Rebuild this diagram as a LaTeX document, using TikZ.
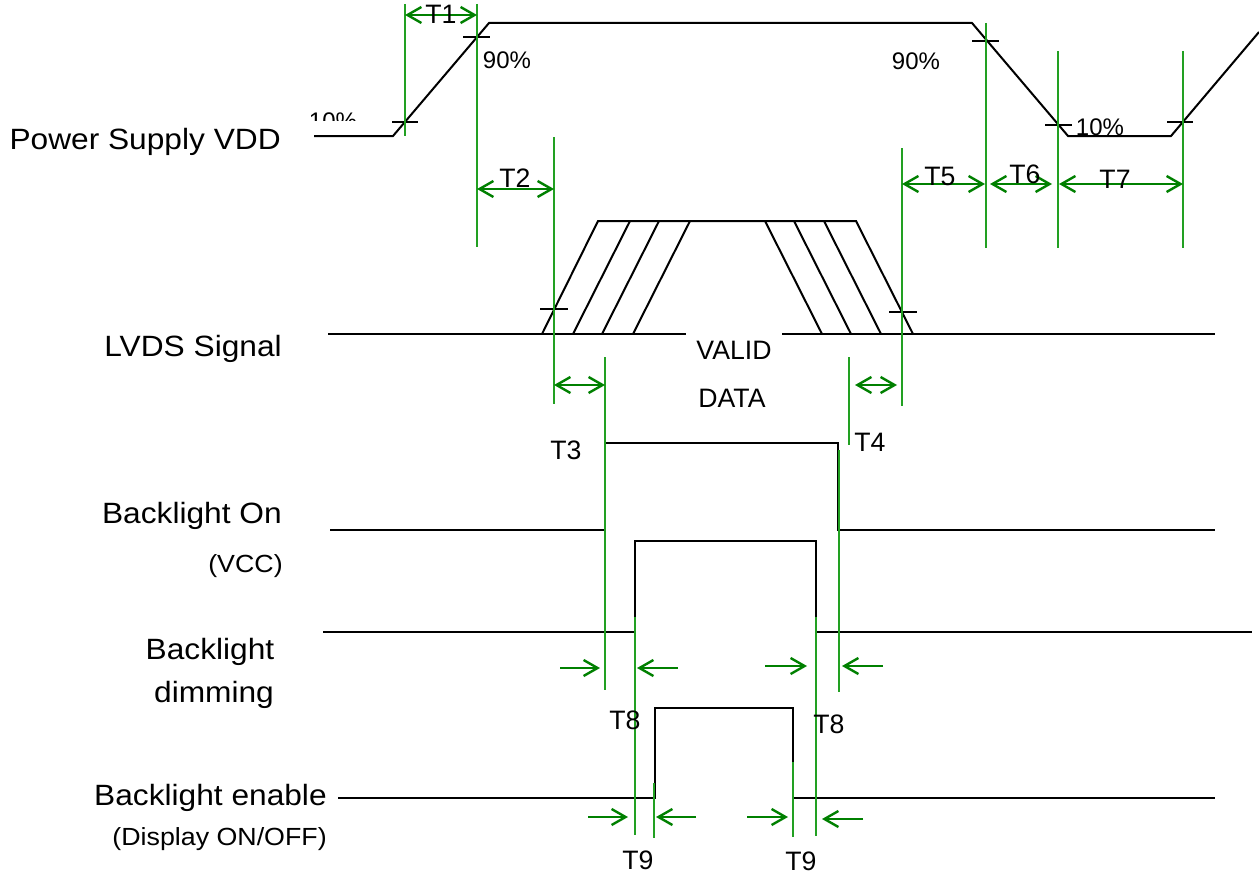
\documentclass[tikz,border=0pt]{standalone}
\usepackage{fontspec}
\setmainfont{Liberation Sans}
\usetikzlibrary{arrows.meta, positioning}
\definecolor{cgreen}{HTML}{008000}
\definecolor{lgreen}{HTML}{22A022}

\begin{document}
\begin{tikzpicture}[x=0.75pt, y=-0.75pt,
  sigline/.style={line width=1.5pt, line join=miter},
  tickmark/.style={line width=1.2pt},
  timeline/.style={draw=lgreen, line width=1pt},
  dimarrow/.style={draw=cgreen, line width=1.8pt, {Straight Barb[length=10.5pt,width=12pt]}-{Straight Barb[length=10.5pt,width=12pt]}},
  inarrow/.style={draw=cgreen, line width=1.8pt, -{Straight Barb[length=10.5pt,width=12pt]}},
  namelabel/.style={font=\fontsize{22}{26}\selectfont, xscale=1.08, anchor=base east, inner sep=0pt},
  sublabel/.style={font=\fontsize{18.6}{22}\selectfont, xscale=1.08, anchor=base east, inner sep=0pt},
  tlabel/.style={font=\fontsize{20}{24}\selectfont, inner sep=0pt},
  pctlabel/.style={font=\fontsize{18}{21}\selectfont, inner sep=0pt}]
  \useasboundingbox (0,0) rectangle (1259,874);

  % signal names
  \node[namelabel] (vdd) at (281,149) {Power Supply VDD};
  \node[namelabel] (lvds) at (282,356) {LVDS Signal};
  \node[namelabel] (blon) at (282,523) {Backlight On};
  \node[sublabel] (vcc) at (283,572) {(VCC)};
  \node[namelabel, anchor=base] (bldim) at (210,659) {Backlight};
  \node[namelabel, anchor=base] (bldimb) at (214,702) {dimming};
  \node[namelabel] (blen) at (327,805) {Backlight enable};
  \node[sublabel] (disp) at (327,845) {(Display ON/OFF)};

  % waveforms
  \draw[sigline] (314,136) -- (393,136) -- (489,23) -- (972,23) -- (1068,136) -- (1171,136) -- (1259,32);
  \draw[sigline] (328,334) -- (686,334);
  \draw[sigline] (782,334) -- (1215,334);
  \draw[sigline] (542,334) -- (598,221) -- (856,221) -- (913,334);
  \foreach \b in {573,602,633}
    \draw[sigline] (\b,334) -- ++(57,-113);
  \foreach \t in {765,794,824}
    \draw[sigline] (\t,221) -- ++(57,113);
  \draw[sigline] (330,530) -- (605,530) -- (605,443) -- (838,443) -- (838,530) -- (1215,530);
  \draw[sigline] (323,632) -- (635,632) -- (635,541) -- (816,541) -- (816,632) -- (1252,632);
  \draw[sigline] (338,798) -- (655,798) -- (655,708) -- (793,708) -- (793,798) -- (1215,798);

  % level marks
  \foreach \xa/\xb/\y in {392/418/122, 463/490/37, 972/999/41, 1045/1072/125, 1167/1193/122, 540/568/309, 889/917/312}
    \draw[tickmark] (\xa,\y) -- (\xb,\y);

  % timing lines
  \foreach \x/\ya/\yb in {405/4/136, 477/4/247, 554/137/404, 986/23/248, 1058/51/248, 1183/51/248,
      902/148/406, 605/357/690, 849/357/445, 839/450/692, 635/617/835, 816/617/836, 654/783/838, 793/762/837}
    \draw[timeline] (\x,\ya) -- (\x,\yb);

  % arrow ends
  \foreach \n/\x/\y in {t1a/405/15, t1b/477/15, t2a/477/189, t2b/554/189,
      t5a/902/184, t5b/985/184, t6a/990/184, t6b/1052/184, t7a/1059/184, t7b/1183/184,
      t3a/554/385, t3b/605/385, t4a/855/385, t4b/897/385,
      p1a/560/668, p1b/600/668, p2a/678/668, p2b/637/668,
      p3a/765/666, p3b/807/666, p4a/883/666, p4b/842/666,
      q1a/588/817, q1b/628/817, q2a/696/817, q2b/656/817,
      q3a/747/817, q3b/788/817, q4a/863/819, q4b/822/819}
    \coordinate (\n) at (\x,\y);

  \draw[dimarrow] (t1a) -- (t1b);
  \draw[dimarrow] (t2a) -- (t2b);
  \draw[dimarrow] (t5a) -- (t5b);
  \draw[dimarrow] (t6a) -- (t6b);
  \draw[dimarrow] (t7a) -- (t7b);
  \draw[dimarrow] (t3a) -- (t3b);
  \draw[dimarrow] (t4a) -- (t4b);
  \foreach \n in {p1,p2,p3,p4,q1,q2,q3,q4}
    \draw[inarrow] (\n a) -- (\n b);

  % labels
  \node[tlabel] (lt1) at (441,14) {T1};
  \node[tlabel] (lt2) at (515,178) {T2};
  \node[tlabel] (lt5) at (940,176) {T5};
  \node[tlabel] (lt6) at (1025,174) {T6};
  \node[tlabel] (lt7) at (1115,179) {T7};
  \node[tlabel] (lt3) at (566,450) {T3};
  \node[tlabel] (lt4) at (870,442) {T4};
  \node[tlabel] (lt8) at (625,720) {T8};
  \node[tlabel] (lt8b) at (829,724) {T8};
  \node[tlabel] (lt9) at (638,860) {T9};
  \node[tlabel] (lt9b) at (801,861) {T9};
  \node[tlabel] (valid) at (734,350) {VALID};
  \node[tlabel] (data) at (732,398) {DATA};
  \node[pctlabel] (hi1) at (507,60) {90\%};
  \node[pctlabel] (hi2) at (916,61) {90\%};
  \node[pctlabel] (lo2) at (1100,127) {10\%};
  \begin{scope}
    \clip (300,100) rectangle (370,120);
    \node[pctlabel] (lo1) at (333,121) {10\%};
  \end{scope}
\end{tikzpicture}
\end{document}
